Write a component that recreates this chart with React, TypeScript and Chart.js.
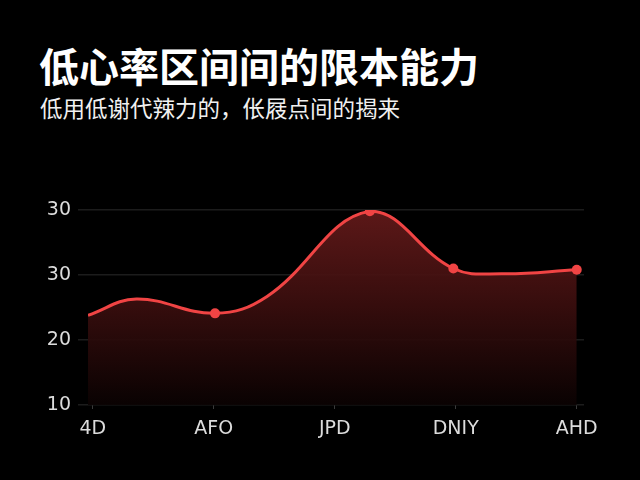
import React, { useRef, useEffect } from "react";
import Chart from "chart.js/auto";

// category labels shown under the x axis (at 0..4)
const xLabels = ["4D", "AFO", "JPD", "DNIY", "AHD"];
// y tick labels as printed in the picture, for values 10, 20, 30, 40
const yTickLabels = ["10", "20", "30", "30"];
// curve points (x in category units), some are only shape points without marker
const pointX = [-0.04, 0.36, 1.01, 1.44, 2.29, 2.98, 3.39, 4.0];
const pointY = [23.8, 26.3, 24.1, 26.7, 39.8, 31.0, 30.2, 30.8];
const showMarker = [false, false, true, false, true, true, false, true];

const LINE = "#f04444";
const TICK_FONT = { family: "'DejaVu Sans', sans-serif", size: 19 };

const App: React.FC = () => {
  const canvasRef = useRef<HTMLCanvasElement>(null);
  const chartInstance = useRef<Chart | null>(null);

  useEffect(() => {
    document.body.style.margin = "0";
    document.body.style.background = "#000";
    if (!canvasRef.current) return;
    const ctx = canvasRef.current.getContext("2d");
    if (!ctx) return;

    if (chartInstance.current) chartInstance.current.destroy();

    chartInstance.current = new Chart(ctx, {
      type: "line",
      data: {
        datasets: [
          {
            data: pointX.map((x, i) => ({ x, y: pointY[i] })),
            borderColor: LINE,
            borderWidth: 3,
            tension: 0.4,
            pointRadius: showMarker.map((m) => (m ? 5 : 0)),
            pointBackgroundColor: LINE,
            pointBorderWidth: 0,
            fill: "start",
            backgroundColor: (c: any) => {
              const area = c.chart.chartArea;
              if (!area) return "rgba(90,22,22,0.9)";
              const g = c.chart.ctx.createLinearGradient(0, area.top, 0, area.bottom);
              g.addColorStop(0, "rgba(100,26,26,0.92)");
              g.addColorStop(0.45, "rgba(62,15,15,0.92)");
              g.addColorStop(1, "rgba(10,2,2,0.92)");
              return g;
            },
          },
        ],
      },
      options: {
        animation: false,
        responsive: true,
        maintainAspectRatio: false,
        layout: { padding: { top: 20, right: 56, left: 0, bottom: 0 } },
        plugins: { legend: { display: false }, tooltip: { enabled: false } },
        scales: {
          x: {
            type: "linear",
            min: -0.04,
            max: 4.06,
            afterBuildTicks: (s: any) => {
              s.ticks = xLabels.map((_, i) => ({ value: i }));
            },
            afterFit: (s: any) => {
              s.height = 46;
            },
            ticks: {
              color: "#dcdcdc",
              font: TICK_FONT,
              padding: 9,
              maxRotation: 0,
              callback: (v: any) => xLabels[Math.round(Number(v))] ?? "",
            },
            grid: {
              drawOnChartArea: false,
              drawTicks: true,
              tickLength: 4,
              color: "#3a3a3a",
            },
            border: { display: false },
          },
          y: {
            min: 10,
            max: 40,
            afterFit: (s: any) => {
              s.width = 88;
            },
            ticks: {
              stepSize: 10,
              color: "#dcdcdc",
              font: TICK_FONT,
              padding: 7,
              callback: (v: any) => yTickLabels[Math.round((Number(v) - 10) / 10)] ?? "",
            },
            grid: {
              color: "#1c1c1c",
              lineWidth: 1.5,
              drawTicks: true,
              tickLength: 10,
            },
            border: { display: false },
          },
        },
      },
    });

    return () => {
      if (chartInstance.current) chartInstance.current.destroy();
    };
  }, []);

  return (
    <div
      style={{
        position: "relative",
        width: 640,
        height: 480,
        background: "#000",
        overflow: "hidden",
        fontFamily: "'Noto Sans CJK SC', sans-serif",
      }}
    >
      <div
        style={{
          position: "absolute",
          left: 39,
          top: 38,
          color: "#fff",
          fontSize: 40,
          fontWeight: 700,
          lineHeight: "54px",
          whiteSpace: "nowrap",
        }}
      >
        低心率区间间的限本能力
      </div>
      <div
        style={{
          position: "absolute",
          left: 40,
          top: 92,
          color: "#f0f0f0",
          fontSize: 22.5,
          lineHeight: "30px",
          whiteSpace: "nowrap",
        }}
      >
        低用低谢代辣力的，伥屐点间的揭来
      </div>
      <div style={{ position: "absolute", left: 0, top: 190, width: 640, height: 261 }}>
        <canvas ref={canvasRef}></canvas>
      </div>
    </div>
  );
};

export default App;
